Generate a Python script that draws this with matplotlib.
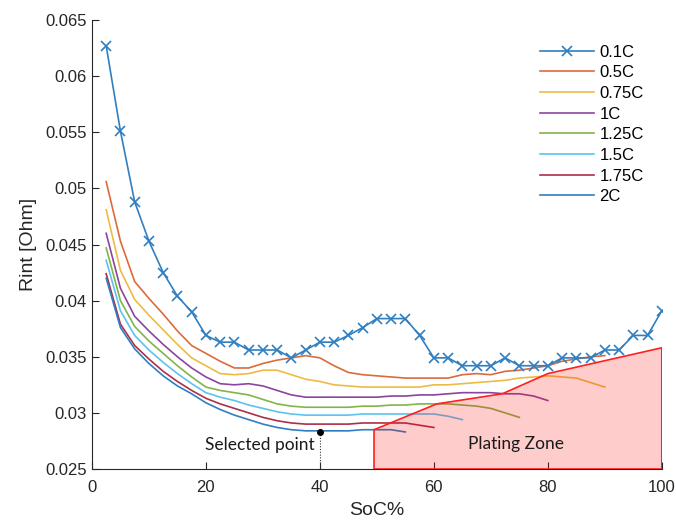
import matplotlib
matplotlib.use("Agg")
import matplotlib.pyplot as plt
import numpy as np

plt.rcParams['font.family'] = ['Liberation Sans', 'DejaVu Sans']

# ---------------- data ----------------
soc_01 = [2.5, 5, 7.5, 10, 12.5, 15, 17.5, 20, 22.5, 25, 27.5, 30, 32.5, 35, 37.5, 40,
          42.5, 45, 47.5, 50, 52.5, 55, 57.5, 60, 62.5, 65, 67.5, 70, 72.5, 75, 77.5,
          80, 82.5, 85, 87.5, 90, 92.5, 95, 97.5, 100]
r_01 = [0.0627, 0.0551, 0.0488, 0.0453, 0.0425, 0.0404, 0.0390, 0.0369, 0.0363, 0.0363,
        0.0356, 0.0356, 0.0356, 0.0349, 0.0356, 0.0363, 0.0363, 0.0369, 0.0376, 0.0384,
        0.0384, 0.0384, 0.0369, 0.0349, 0.0349, 0.0342, 0.0342, 0.0342, 0.0349, 0.0342,
        0.0342, 0.0342, 0.0349, 0.0349, 0.0349, 0.0356, 0.0356, 0.0369, 0.0369, 0.0391]

r_05 = [0.0506, 0.0453, 0.0417, 0.0402, 0.0388, 0.0373, 0.0360, 0.0353, 0.0346, 0.0340,
        0.0340, 0.0344, 0.0347, 0.0349, 0.0351, 0.0349, 0.0342, 0.0336, 0.0334, 0.0333,
        0.0332, 0.0331, 0.0331, 0.0331, 0.0331, 0.0334, 0.0335, 0.0334, 0.0337, 0.0338,
        0.0340, 0.0342, 0.0346, 0.0348, 0.0350, 0.0351]
r_075 = [0.0481, 0.0427, 0.0401, 0.0387, 0.0374, 0.0361, 0.0349, 0.0342, 0.0335, 0.0334,
         0.0335, 0.0338, 0.0338, 0.0334, 0.0330, 0.0328, 0.0325, 0.0324, 0.0323, 0.0323,
         0.0323, 0.0323, 0.0323, 0.0325, 0.0325, 0.0326, 0.0327, 0.0328, 0.0329, 0.0331,
         0.0332, 0.0333, 0.0332, 0.0331, 0.0327, 0.0323]
r_1 = [0.0460, 0.0411, 0.0386, 0.0373, 0.0361, 0.0350, 0.0340, 0.0332, 0.0326, 0.0325,
       0.0326, 0.0324, 0.0320, 0.0316, 0.0314, 0.0314, 0.0314, 0.0314, 0.0314, 0.0314,
       0.0315, 0.0315, 0.0316, 0.0316, 0.0317, 0.0318, 0.0318, 0.0318, 0.0317, 0.0317,
       0.0315, 0.0311]
r_125 = [0.0447, 0.0400, 0.0377, 0.0364, 0.0353, 0.0342, 0.0332, 0.0323, 0.0320, 0.0318,
         0.0316, 0.0312, 0.0308, 0.0306, 0.0305, 0.0305, 0.0305, 0.0305, 0.0306, 0.0306,
         0.0307, 0.0307, 0.0308, 0.0308, 0.0308, 0.0307, 0.0306, 0.0304, 0.0300, 0.0296]
r_15 = [0.0436, 0.0391, 0.0369, 0.0356, 0.0345, 0.0335, 0.0326, 0.0318, 0.0314, 0.0311,
        0.0307, 0.0304, 0.0301, 0.0299, 0.0298, 0.0298, 0.0298, 0.0298, 0.0299, 0.0299,
        0.0299, 0.0299, 0.0299, 0.0299, 0.0297, 0.0294]
r_175 = [0.0424, 0.0379, 0.0360, 0.0348, 0.0337, 0.0328, 0.0320, 0.0313, 0.0308, 0.0304,
         0.0300, 0.0296, 0.0293, 0.0291, 0.0290, 0.0290, 0.0290, 0.0290, 0.0291, 0.0291,
         0.0291, 0.0291, 0.0289, 0.0287]
r_2 = [0.0420, 0.0376, 0.0357, 0.0344, 0.0333, 0.0324, 0.0317, 0.0309, 0.0303, 0.0298,
       0.0294, 0.0290, 0.0287, 0.0285, 0.0284, 0.0284, 0.0284, 0.0284, 0.0285, 0.0285,
       0.0285, 0.0283]

labels = ["0.1C", "0.5C", "0.75C", "1C", "1.25C", "1.5C", "1.75C", "2C"]
series = [r_01, r_05, r_075, r_1, r_125, r_15, r_175, r_2]
colors = ["#2f7fc1", "#dd6a3a", "#edbb45", "#8c44a0", "#83b447", "#5cc3ee", "#ad3048", "#2f7fc1"]

plating_x = [49.5, 49.5, 60.5, 72, 80, 100, 100]
plating_y = [0.025, 0.0285, 0.0308, 0.0317, 0.0335, 0.0358, 0.025]

sel_x, sel_y = 40, 0.0283

# ---------------- plot ----------------
fig = plt.figure(figsize=(6.76, 5.21), dpi=100)
ax = fig.add_axes([0.136, 0.0998, 0.843, 0.8618])

for i, (lab, r, c) in enumerate(zip(labels, series, colors)):
    x = soc_01[:len(r)]
    if i == 0:
        ax.plot(x, r, color=c, lw=1.2, marker='x', ms=7, mew=1.2, label=lab, zorder=3)
    else:
        ax.plot(x, r, color=c, lw=1.2, label=lab, zorder=2)

ax.fill(plating_x, plating_y, facecolor=(1, 0, 0, 0.2), edgecolor='#ff2020', lw=1.2, zorder=4)

ax.plot([sel_x, sel_x], [0.025, sel_y], color='#333333', lw=0.8, ls=(0, (1, 1.5)), zorder=5)
ax.plot([sel_x], [sel_y], 'o', color='black', ms=4, zorder=6)

ax.text(29.5, 0.0271, "Selected point", family='Lato', fontsize=12.5, ha='center', va='center',
        color='#1a1a1a', zorder=7)
ax.text(74.5, 0.0272, "Plating Zone", family='Lato', fontsize=12.5, ha='center', va='center',
        color='#1a1a1a', zorder=7)

ax.set_xlim(0, 100)
ax.set_ylim(0.025, 0.065)
ax.set_xticks([0, 20, 40, 60, 80, 100])
ax.set_yticks([0.025, 0.03, 0.035, 0.04, 0.045, 0.05, 0.055, 0.06, 0.065])
ax.set_yticklabels(["0.025", "0.03", "0.035", "0.04", "0.045", "0.05", "0.055", "0.06", "0.065"])
ax.spines['top'].set_visible(False)
ax.spines['right'].set_visible(False)
for s in ['left', 'bottom']:
    ax.spines[s].set_color('#262626')
    ax.spines[s].set_linewidth(0.8)
ax.tick_params(direction='in', length=5, width=0.8, color='#262626', labelsize=12,
               labelcolor='#262626')
ax.tick_params(axis='x', pad=8)
ax.set_xlabel("SoC%", fontsize=14, color='#262626', labelpad=5)
ax.set_ylabel("Rint [Ohm]", fontsize=14, color='#262626', labelpad=6)

leg = ax.legend(loc='upper left', bbox_to_anchor=(0.775, 0.96), frameon=False, fontsize=12,
                handlelength=3.2, handletextpad=0.35, labelspacing=0.34, borderaxespad=0)

fig.savefig("out.png", dpi=100)
